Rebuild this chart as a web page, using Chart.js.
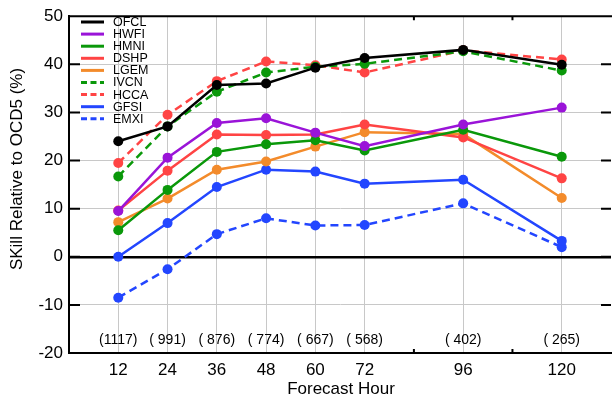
<!DOCTYPE html>
<html>
<head>
<meta charset="utf-8">
<script src="https://cdn.jsdelivr.net/npm/chart.js@4/dist/chart.umd.min.js"></script>
<style>
  html, body { margin: 0; padding: 0; background: #fff; overflow: hidden; }
  #wrap { width: 616px; height: 402px; }
</style>
</head>
<body>
<div id="wrap"><canvas id="skill" width="616" height="402"></canvas></div>
<script>
// forecast hours and per-model skill (%)
var hours = [12, 24, 36, 48, 60, 72, 96, 120];
var counts = ["(1117)", "( 991)", "( 876)", "( 774)", "( 667)", "( 568)", "( 402)", "( 265)"];
var yTicks = [-20, -10, 0, 10, 20, 30, 40, 50];
var minorHours = [84, 108];

var ofcl = [24.0, 27.1, 35.7, 36.0, 39.3, 41.3, 43.0, 39.9];
var hwfi = [9.5, 20.6, 27.8, 28.8, 25.8, 23.0, 27.5, 31.0];
var hmni = [5.5, 13.9, 21.8, 23.4, 24.2, 22.1, 26.4, 20.8];
var dshp = [9.6, 17.9, 25.4, 25.3, 25.4, 27.5, 24.8, 16.3];
var lgem = [7.2, 12.1, 18.1, 19.8, 22.9, 25.9, 25.5, 12.2];
var ivcn = [16.7, 27.1, 34.3, 38.3, 39.5, 40.1, 42.7, 38.7];
var hcca = [19.5, 29.5, 36.5, 40.6, 39.8, 38.3, 42.9, 41.0];
var gfsi = [0.0, 7.0, 14.5, 18.1, 17.7, 15.2, 16.0, 3.3];
var emxi = [-8.5, -2.6, 4.7, 8.0, 6.5, 6.6, 11.1, 2.0];

var FONT = "'Liberation Sans', Arial, Helvetica, sans-serif";
var purple = "#9a14d8", green = "#0a980a", red = "#ff4444", orange = "#f38b2b", blue = "#2346ff";

function series(label, values, color, dashed) {
  return {
    label: label,
    data: hours.map(function (h, i) { return { x: h, y: values[i] }; }),
    borderColor: color,
    backgroundColor: color,
    borderWidth: 2.5,
    borderDash: dashed ? [8, 5] : [],
    pointRadius: 5,
    pointBorderWidth: 0,
    pointBackgroundColor: color,
    tension: 0
  };
}

var datasets = [
  series("OFCL", ofcl, "#000000", false),
  series("HWFI", hwfi, purple, false),
  series("HMNI", hmni, green, false),
  series("DSHP", dshp, red, false),
  series("LGEM", lgem, orange, false),
  series("IVCN", ivcn, green, true),
  series("HCCA", hcca, red, true),
  series("GFSI", gfsi, blue, false),
  series("EMXI", emxi, blue, true)
];

// frame bits, sample counts, titles and the in-plot legend
var decor = {
  id: "decor",
  afterDraw: function (chart) {
    var c = chart.ctx, a = chart.chartArea;
    var xs = chart.scales.x, ys = chart.scales.y;
    c.save();
    c.strokeStyle = "#000";
    c.lineWidth = 2;
    c.setLineDash([]);
    c.beginPath();
    c.moveTo(a.left - 1, a.top); c.lineTo(a.right + 2, a.top);
    yTicks.forEach(function (v) {
      var y = ys.getPixelForValue(v);
      c.moveTo(a.left, y); c.lineTo(a.left + 11, y);
      c.moveTo(a.right - 10, y); c.lineTo(a.right, y);
    });
    minorHours.forEach(function (h) {
      var x = xs.getPixelForValue(h);
      c.moveTo(x, a.bottom); c.lineTo(x, a.bottom - 4);
      c.moveTo(x, a.top); c.lineTo(x, a.top + 4);
    });
    c.stroke();

    c.fillStyle = "#000";
    c.textAlign = "center";
    c.textBaseline = "middle";
    c.font = "14px " + FONT;
    hours.forEach(function (h, i) {
      c.fillText(counts[i], xs.getPixelForValue(h), 340);
    });

    c.font = "17px " + FONT;
    c.fillText("Forecast Hour", (a.left + a.right) / 2 + 1, 389);
    c.save();
    c.translate(17, 169);
    c.rotate(-Math.PI / 2);
    c.fillText("SKill Relative to OCD5 (%)", 0, 0);
    c.restore();

    c.font = "12.5px " + FONT;
    c.textAlign = "left";
    chart.data.datasets.forEach(function (ds, i) {
      var y = 22 + i * 12.1;
      c.strokeStyle = ds.borderColor;
      c.lineWidth = 3;
      c.setLineDash(ds.borderDash.length ? [6, 3.5] : []);
      c.beginPath();
      c.moveTo(81, y); c.lineTo(104, y);
      c.stroke();
      c.fillStyle = "#000";
      c.fillText(ds.label, 113, y + 0.5);
    });
    c.restore();
  }
};

new Chart(document.getElementById("skill"), {
  type: "line",
  data: { datasets: datasets },
  options: {
    responsive: false,
    devicePixelRatio: 1,
    animation: false,
    layout: { padding: { top: 10, right: 2.5, left: 0, bottom: 0 } },
    plugins: { legend: { display: false }, tooltip: { enabled: false } },
    scales: {
      x: {
        type: "linear",
        min: 0,
        max: 132,
        afterBuildTicks: function (s) { s.ticks = hours.map(function (h) { return { value: h }; }); },
        afterFit: function (s) { s.height = 49; },
        ticks: { font: { family: FONT, size: 17 }, color: "#000", padding: 7, maxRotation: 0, autoSkip: false },
        grid: { color: "#c8c8c8", lineWidth: 1, drawTicks: false },
        border: { color: "#000", width: 2 }
      },
      y: {
        min: -20,
        max: 50,
        afterBuildTicks: function (s) { s.ticks = yTicks.map(function (v) { return { value: v }; }); },
        afterFit: function (s) { s.width = 69; },
        ticks: { font: { family: FONT, size: 17 }, color: "#000", padding: 6 },
        grid: {
          drawTicks: false,
          color: function (ctx) { return ctx.tick && ctx.tick.value === 0 ? "#000" : "#c8c8c8"; },
          lineWidth: function (ctx) { return ctx.tick && ctx.tick.value === 0 ? 2.5 : 1; }
        },
        border: { color: "#000", width: 2 }
      }
    }
  },
  plugins: [decor]
});
</script>
</body>
</html>
